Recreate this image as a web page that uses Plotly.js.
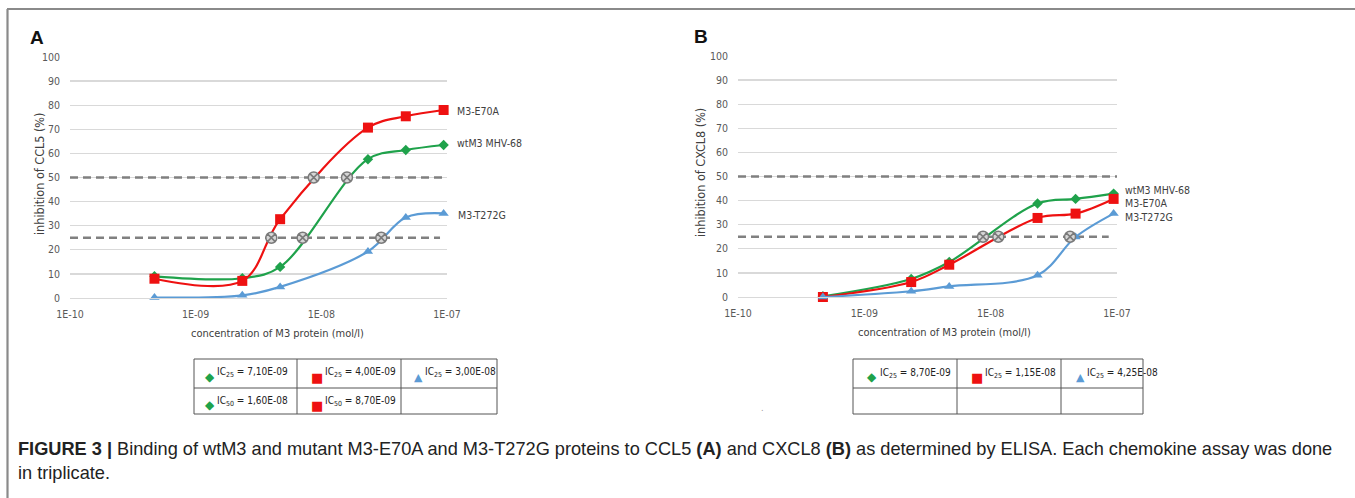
<!DOCTYPE html>
<html>
<head>
<meta charset="utf-8">
<script src="https://cdn.plot.ly/plotly-3.0.1.min.js"></script>
<style>html,body{margin:0;padding:0;background:#fff;}#chart{width:1355px;height:498px;}</style>
</head>
<body>
<div id="chart"></div>
<script>
// ---------- DATA ----------
const concentrations = [4.7e-10, 2.35e-9, 4.7e-9, 2.35e-8, 4.7e-8, 9.4e-8];
const seriesNames = ["wtM3 MHV-68", "M3-E70A", "M3-T272G"];

// Panel A: inhibition of CCL5 (%)
const ccl5_wt    = [9.0, 8.2, 12.9, 57.6, 61.4, 63.5];
const ccl5_e70a  = [8.0, 7.1, 32.7, 70.7, 75.4, 78.0];
const ccl5_t272g = [0.2, 1.1, 4.6, 19.3, 33.4, 35.1];

// Panel B: inhibition of CXCL8 (%)
const cxcl8_wt    = [0.3, 7.5, 14.5, 38.8, 40.7, 42.9];
const cxcl8_e70a  = [0.0, 6.2, 13.4, 32.8, 34.6, 40.7];
const cxcl8_t272g = [0.0, 2.4, 4.4, 9.0, 24.9, 34.6];

// IC values (mol/l): [wt, E70A, T272G]
const ccl5_ic25  = [7.10e-9, 4.00e-9, 3.00e-8];
const ccl5_ic50  = [1.60e-8, 8.70e-9, null];
const cxcl8_ic25 = [8.70e-9, 1.15e-8, 4.25e-8];
const cxcl8_ic50 = [null, null, null];

const refLevels = [25, 50];
const xTickVals = [1e-10, 1e-9, 1e-8, 1e-7];
const xTickText = ["1E-10", "1E-09", "1E-08", "1E-07"];
const yTickVals = [0, 10, 20, 30, 40, 50, 60, 70, 80, 90, 100];

// ---------- STYLE ----------
const W = 1355, H = 498;
const px = x => x / W;
const py = y => 1 - y / H;
const colors = ["#1fa24b", "#ee1111", "#5b9bd5"];
const symbols = ["diamond", "square", "triangle-up"];
const sizes = [8, 10, 9];
const glyphs = ["\u25C6", "\u25A0", "\u25B2"];
const chartFont = "'Liberation Sans Narrow', 'DejaVu Sans Condensed', Lato, sans-serif";
const textGray = "#404040";

function fmtIC(v) {
  const e = v.toExponential(2).split("e");
  const exp = parseInt(e[1], 10);
  const sign = exp < 0 ? "-" : "+";
  const ab = Math.abs(exp);
  return e[0].replace(".", ",") + "E" + sign + (ab < 10 ? "0" + ab : ab);
}

const traces = [];
function addPanel(xa, ya, data, ic25, ic50, dash25End) {
  refLevels.forEach(lv => {
    const xe = lv === 25 ? dash25End : 1e-7;
    traces.push({x: [1e-10, xe], y: [lv, lv], xaxis: xa, yaxis: ya, mode: "lines",
      line: {color: "#808080", width: 2.5, dash: "8px,5px"}, hoverinfo: "skip", showlegend: false});
  });
  data.forEach((vals, i) => {
    traces.push({x: concentrations, y: vals, xaxis: xa, yaxis: ya, mode: "lines+markers",
      name: seriesNames[i], cliponaxis: false,
      line: {color: colors[i], width: 2.2, shape: "spline", smoothing: 1},
      marker: {symbol: symbols[i], size: sizes[i], color: colors[i]}, showlegend: false});
  });
  const icx = [], icy = [];
  ic25.forEach(v => { if (v) { icx.push(v); icy.push(25); } });
  ic50.forEach(v => { if (v) { icx.push(v); icy.push(50); } });
  traces.push({x: icx, y: icy, xaxis: xa, yaxis: ya, mode: "markers", cliponaxis: false,
    marker: {symbol: "circle-x", size: 11, color: "#d6d6d6", line: {color: "#7a7a7a", width: 1.5}},
    hoverinfo: "skip", showlegend: false});
}
addPanel("x", "y", [ccl5_wt, ccl5_e70a, ccl5_t272g], ccl5_ic25, ccl5_ic50, 8.8e-8);
addPanel("x2", "y2", [cxcl8_wt, cxcl8_e70a, cxcl8_t272g], cxcl8_ic25, cxcl8_ic50, 8.6e-8);

const tickFont = {family: chartFont, size: 10.5, color: "#595959"};
function xAxis(domain) {
  return {type: "log", domain: domain, range: [-10, -7], tickvals: xTickVals, ticktext: xTickText,
    showgrid: false, zeroline: false, showline: true, linecolor: "#d9d9d9", linewidth: 1.3,
    ticks: "", ticklabelstandoff: 6, tickfont: tickFont, fixedrange: true};
}
function yAxis(domain, anchor) {
  return {domain: domain, range: [0, 100], tickvals: yTickVals, anchor: anchor,
    showgrid: true, gridcolor: "#d9d9d9", gridwidth: 1.3, zeroline: false, showline: false,
    ticks: "", ticklabelstandoff: 9, tickfont: tickFont, fixedrange: true};
}

const annotations = [];
function txt(x, y, text, opts) {
  annotations.push(Object.assign({xref: "paper", yref: "paper", x: px(x), y: py(y), text: text,
    showarrow: false, xanchor: "left", yanchor: "middle",
    font: {family: chartFont, size: 10.5, color: textGray}}, opts || {}));
}
// panel letters
txt(37, 37, "<b>A</b>", {xanchor: "center", font: {family: "Liberation Sans, Arial", size: 19, color: "#111"}});
txt(701, 36, "<b>B</b>", {xanchor: "center", font: {family: "Liberation Sans, Arial", size: 19, color: "#111"}});
// axis titles
const yTitleFont = {family: chartFont, size: 12.5, color: textGray};
const xTitleFont = {family: chartFont, size: 11, color: textGray};
txt(39, 174, "inhibition of CCL5 (%)", {xanchor: "center", textangle: -90, font: yTitleFont});
txt(700, 173, "inhibition of CXCL8 (%)", {xanchor: "center", textangle: -90, font: yTitleFont});
txt(277, 333, "concentration of M3 protein (mol/l)", {xanchor: "center", font: xTitleFont});
txt(944, 332, "concentration of M3 protein (mol/l)", {xanchor: "center", font: xTitleFont});
// series end labels
txt(455, 111, seriesNames[1]);
txt(455, 143, seriesNames[0]);
txt(456, 215, seriesNames[2]);
txt(1123, 190, seriesNames[0]);
txt(1123, 203, seriesNames[1]);
txt(1123, 217, seriesNames[2]);

// tables
const shapes = [];
function line(x0, y0, x1, y1, color, width) {
  shapes.push({type: "line", xref: "paper", yref: "paper", x0: px(x0), y0: py(y0), x1: px(x1), y1: py(y1),
    line: {color: color, width: width}});
}
function table(x0, cols, y0, yMid, y1) {
  const xr = cols[cols.length - 1];
  line(x0, y0, xr, y0, "#555", 1); line(x0, yMid, xr, yMid, "#555", 1); line(x0, y1, xr, y1, "#555", 1);
  [x0].concat(cols).forEach(c => line(c, y0, c, y1, "#555", 1));
}
table(194, [297, 401, 497], 359, 388, 414);
table(853, [957, 1061, 1143], 359, 388, 414);
function cell(gx, gy, tx, ty, i, sub, v) {
  txt(gx, gy, glyphs[i], {xanchor: "center", font: {family: "DejaVu Sans", size: i === 0 ? 12 : (i === 1 ? 13 : 11), color: colors[i]}});
  txt(tx, ty, `IC<sub>${sub}</sub> = ${fmtIC(v)}`, {font: {family: chartFont, size: 10, color: "#222"}});
}
const colA = [[210, 215], [317, 323], [418, 423]];
ccl5_ic25.forEach((v, i) => { if (v) cell(colA[i][0], 377, colA[i][1], 372, i, 25, v); });
ccl5_ic50.forEach((v, i) => { if (v) cell(colA[i][0], 405, colA[i][1], 401, i, 50, v); });
const colB = [[872, 878], [977, 983], [1080, 1085]];
cxcl8_ic25.forEach((v, i) => { if (v) cell(colB[i][0], 377, colB[i][1], 373, i, 25, v); });
cxcl8_ic50.forEach((v, i) => { if (v) cell(colB[i][0], 405, colB[i][1], 401, i, 50, v); });
txt(762, 408, ".", {xanchor: "center", font: {family: chartFont, size: 9, color: "#999"}});

// caption
const capFont = {family: "Liberation Sans, Arial, Helvetica", size: 18.2, color: "#222"};
txt(16, 449, "<b>FIGURE 3 |</b> Binding of wtM3 and mutant M3-E70A and M3-T272G proteins to CCL5 <b>(A)</b> and CXCL8 <b>(B)</b> as determined by ELISA. Each chemokine assay was done", {font: capFont});
txt(16, 473, "in triplicate.", {font: capFont});

// frame
line(7, 9, 1355, 9, "#8a8a8a", 2.2);
line(7.5, 9, 7.5, 498, "#8a8a8a", 2.2);

const layout = {
  width: W, height: H, margin: {l: 0, r: 0, t: 0, b: 0},
  paper_bgcolor: "#fff", plot_bgcolor: "#fff", showlegend: false,
  xaxis: Object.assign(xAxis([px(70), px(447)]), {anchor: "y"}),
  yaxis: yAxis([py(298), py(57)], "x"),
  xaxis2: Object.assign(xAxis([px(738), px(1117)]), {anchor: "y2"}),
  yaxis2: yAxis([py(297), py(56)], "x2"),
  annotations: annotations, shapes: shapes
};
Plotly.newPlot("chart", traces, layout, {staticPlot: true, displayModeBar: false});
</script>
</body>
</html>
